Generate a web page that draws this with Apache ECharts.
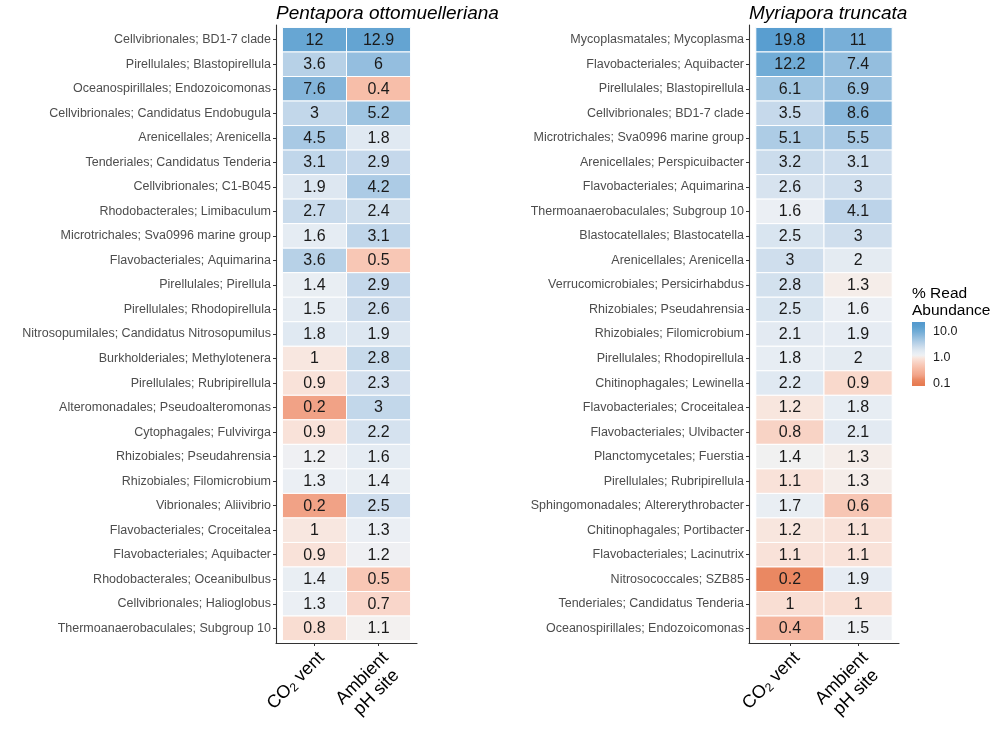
<!DOCTYPE html>
<html>
<head>
<meta charset="utf-8">
<script src="https://cdn.jsdelivr.net/npm/echarts@6/dist/echarts.min.js"></script>
<style>
html,body{margin:0;padding:0;background:#fff;}
#chart{width:1000px;height:740px;}
</style>
</head>
<body>
<div id="chart"></div>
<script>
// ---------- data ----------
const siteLabels = ['CO2 vent', 'Ambient pH site'];

const leftTitle = 'Pentapora ottomuelleriana';
const leftTaxa = [
  'Cellvibrionales; BD1-7 clade',
  'Pirellulales; Blastopirellula',
  'Oceanospirillales; Endozoicomonas',
  'Cellvibrionales; Candidatus Endobugula',
  'Arenicellales; Arenicella',
  'Tenderiales; Candidatus Tenderia',
  'Cellvibrionales; C1-B045',
  'Rhodobacterales; Limibaculum',
  'Microtrichales; Sva0996 marine group',
  'Flavobacteriales; Aquimarina',
  'Pirellulales; Pirellula',
  'Pirellulales; Rhodopirellula',
  'Nitrosopumilales; Candidatus Nitrosopumilus',
  'Burkholderiales; Methylotenera',
  'Pirellulales; Rubripirellula',
  'Alteromonadales; Pseudoalteromonas',
  'Cytophagales; Fulvivirga',
  'Rhizobiales; Pseudahrensia',
  'Rhizobiales; Filomicrobium',
  'Vibrionales; Aliivibrio',
  'Flavobacteriales; Croceitalea',
  'Flavobacteriales; Aquibacter',
  'Rhodobacterales; Oceanibulbus',
  'Cellvibrionales; Halioglobus',
  'Thermoanaerobaculales; Subgroup 10'
];
const leftCO2 = [12, 3.6, 7.6, 3, 4.5, 3.1, 1.9, 2.7, 1.6, 3.6, 1.4, 1.5, 1.8, 1, 0.9, 0.2, 0.9, 1.2, 1.3, 0.2, 1, 0.9, 1.4, 1.3, 0.8];
const leftAmbient = [12.9, 6, 0.4, 5.2, 1.8, 2.9, 4.2, 2.4, 3.1, 0.5, 2.9, 2.6, 1.9, 2.8, 2.3, 3, 2.2, 1.6, 1.4, 2.5, 1.3, 1.2, 0.5, 0.7, 1.1];

const rightTitle = 'Myriapora truncata';
const rightTaxa = [
  'Mycoplasmatales; Mycoplasma',
  'Flavobacteriales; Aquibacter',
  'Pirellulales; Blastopirellula',
  'Cellvibrionales; BD1-7 clade',
  'Microtrichales; Sva0996 marine group',
  'Arenicellales; Perspicuibacter',
  'Flavobacteriales; Aquimarina',
  'Thermoanaerobaculales; Subgroup 10',
  'Blastocatellales; Blastocatella',
  'Arenicellales; Arenicella',
  'Verrucomicrobiales; Persicirhabdus',
  'Rhizobiales; Pseudahrensia',
  'Rhizobiales; Filomicrobium',
  'Pirellulales; Rhodopirellula',
  'Chitinophagales; Lewinella',
  'Flavobacteriales; Croceitalea',
  'Flavobacteriales; Ulvibacter',
  'Planctomycetales; Fuerstia',
  'Pirellulales; Rubripirellula',
  'Sphingomonadales; Altererythrobacter',
  'Chitinophagales; Portibacter',
  'Flavobacteriales; Lacinutrix',
  'Nitrosococcales; SZB85',
  'Tenderiales; Candidatus Tenderia',
  'Oceanospirillales; Endozoicomonas'
];
const rightCO2 = [19.8, 12.2, 6.1, 3.5, 5.1, 3.2, 2.6, 1.6, 2.5, 3, 2.8, 2.5, 2.1, 1.8, 2.2, 1.2, 0.8, 1.4, 1.1, 1.7, 1.2, 1.1, 0.17, 1, 0.4];
const rightAmbient = [11, 7.4, 6.9, 8.6, 5.5, 3.1, 3, 4.1, 3, 2, 1.3, 1.6, 1.9, 2, 0.9, 1.8, 2.1, 1.3, 1.3, 0.6, 1.1, 1.1, 1.9, 1, 1.5];

const legendTitle = '% Read\nAbundance';
const legendTicks = [0.1, 1, 10];
const legendTickLabels = ['0.1', '1.0', '10.0'];

// ---------- colour scale (log10, diverging) ----------
const FONT = '"Liberation Sans", Arial, sans-serif';
const colorStops = [
  [-1.1, '#e67a50'], [-0.9, '#ea8862'], [-0.74, '#f1a286'], [-0.5, '#f6b8a1'],
  [-0.3, '#f8cbbb'], [-0.1, '#f9e1d7'], [-0.04, '#f8e7e0'], [0, '#f3f1f0'],
  [0.06, '#ecf0f4'], [0.2, '#e2eaf2'], [0.35, '#cfdeed'], [0.5, '#b9d2e8'],
  [0.65, '#a2c6e2'], [0.8, '#8ab8dc'], [0.95, '#72acd6'], [1.15, '#5a9fd0'], [1.3, '#5399cd']
];
function hex2rgb(h){return [parseInt(h.slice(1,3),16),parseInt(h.slice(3,5),16),parseInt(h.slice(5,7),16)];}
function colorFor(v, mid){
  const d = Math.log10(v) - Math.log10(mid);
  if (d <= colorStops[0][0]) return colorStops[0][1];
  const last = colorStops[colorStops.length-1];
  if (d >= last[0]) return last[1];
  for (let i=0;i<colorStops.length-1;i++){
    const a=colorStops[i], b=colorStops[i+1];
    if (d>=a[0] && d<=b[0]){
      const t=(d-a[0])/(b[0]-a[0]);
      const ca=hex2rgb(a[1]), cb=hex2rgb(b[1]);
      const c=ca.map((x,k)=>Math.round(x+(cb[k]-x)*t));
      return 'rgb('+c.join(',')+')';
    }
  }
  return last[1];
}
const leftMid = 1.1, rightMid = 1.35, legendMid = 1.15;

function fmt(v){ return String(Math.round(v*10)/10); }

function buildCells(co2, amb, mid){
  const out=[];
  for (let i=0;i<co2.length;i++){
    out.push([0, i, co2[i], mid]);
    out.push([1, i, amb[i], mid]);
  }
  return out;
}

function renderCell(params, api){
  const x=api.value(0), y=api.value(1), v=api.value(2), mid=api.value(3);
  const p1=api.coord([x-0.5, y-0.5]);
  const p2=api.coord([x+0.5, y+0.5]);
  const rx=Math.min(p1[0],p2[0]), ry=Math.min(p1[1],p2[1]);
  const w=Math.abs(p2[0]-p1[0]), h=Math.abs(p2[1]-p1[1]);
  return {
    type:'group',
    children:[
      {type:'rect', shape:{x:rx, y:ry, width:w, height:h},
       style:{fill:colorFor(v, mid), stroke:'#ffffff', lineWidth:1}},
      {type:'text', style:{text:fmt(v), x:rx+w/2, y:ry+h/2+0.5, align:'center', verticalAlign:'middle',
        fontSize:16, fontFamily:FONT, fill:'#1a1a1a'}}
    ]
  };
}

const rowIdx = leftTaxa.map((_,i)=>i);
const colIdx = [0,1];

function yAxisFor(grid, taxa){
  return {
    type:'value', gridIndex:grid, min:-0.6, max:24.6, inverse:true,
    splitLine:{show:false},
    axisLine:{show:true, onZero:false, lineStyle:{color:'#333333', width:1.1}},
    axisTick:{show:true, length:3, customValues:rowIdx, lineStyle:{color:'#333333', width:1}},
    axisLabel:{customValues:rowIdx, formatter:(v)=>taxa[Math.round(v)], color:'#4d4d4d',
      fontSize:12.5, fontFamily:FONT, margin:5}
  };
}
const xRich = {
  n:{fontSize:18, fontFamily:FONT, color:'#000', lineHeight:20, align:'center'},
  s:{fontSize:12, fontFamily:FONT, color:'#000', lineHeight:10, verticalAlign:'bottom'}
};
function xAxisFor(grid){
  return {
    type:'value', gridIndex:grid, min:-0.6, max:1.6,
    splitLine:{show:false},
    axisLine:{show:true, onZero:false, lineStyle:{color:'#333333', width:1.1}},
    axisTick:{show:true, length:3, customValues:colIdx, lineStyle:{color:'#333333', width:1}},
    axisLabel:{customValues:colIdx, rotate:45, margin:5, align:'right', verticalAlign:'top',
      formatter:(v)=> Math.round(v)===0 ? '{n|CO}{s|2}{n| vent}' : '{n|Ambient}\n{n|pH site}',
      rich:xRich}
  };
}

const legMin=-1.077, legMax=1.385;

const chart = echarts.init(document.getElementById('chart'), null, {renderer:'canvas'});
chart.setOption({
  backgroundColor:'#ffffff',
  animation:false,
  title:[
    {text:leftTitle, left:276, top:4, padding:0,
     textStyle:{fontStyle:'italic', fontWeight:'normal', fontSize:19, color:'#000', fontFamily:FONT}},
    {text:rightTitle, left:749, top:4, padding:0,
     textStyle:{fontStyle:'italic', fontWeight:'normal', fontSize:19, color:'#000', fontFamily:FONT}},
    {text:legendTitle, left:912, top:285, padding:0,
     textStyle:{fontWeight:'normal', fontSize:15.5, lineHeight:17, color:'#000', fontFamily:FONT}}
  ],
  grid:[
    {left:276, top:25, width:141, height:618},
    {left:749, top:25, width:150, height:618},
    {left:912, top:322, width:13, height:64}
  ],
  xAxis:[
    xAxisFor(0), xAxisFor(1),
    {type:'value', gridIndex:2, min:0, max:1, show:false}
  ],
  yAxis:[
    yAxisFor(0, leftTaxa), yAxisFor(1, rightTaxa),
    {type:'value', gridIndex:2, min:legMin, max:legMax, position:'right',
     splitLine:{show:false}, axisLine:{show:false}, axisTick:{show:false},
     axisLabel:{customValues:legendTicks.map(t=>Math.log10(t)),
       formatter:(v)=>legendTickLabels[legendTicks.findIndex(t=>Math.abs(Math.log10(t)-v)<1e-6)],
       color:'#1a1a1a', fontSize:12.5, fontFamily:FONT, margin:8}}
  ],
  series:[
    {type:'custom', xAxisIndex:0, yAxisIndex:0, renderItem:renderCell,
     data:buildCells(leftCO2, leftAmbient, leftMid), clip:false},
    {type:'custom', xAxisIndex:1, yAxisIndex:1, renderItem:renderCell,
     data:buildCells(rightCO2, rightAmbient, rightMid), clip:false},
    {type:'custom', xAxisIndex:2, yAxisIndex:2, data:[[0]],
     renderItem:function(params, api){
       const p1=api.coord([0, legMax]), p2=api.coord([1, legMin]);
       const stops=[];
       const N=40;
       for(let i=0;i<=N;i++){
         const L=legMin+(legMax-legMin)*i/N;
         stops.push({offset:i/N, color:colorFor(Math.pow(10,L), legendMid)});
       }
       return {type:'rect', shape:{x:p1[0], y:p1[1], width:p2[0]-p1[0], height:p2[1]-p1[1]},
         style:{fill:{type:'linear', x:0, y:1, x2:0, y2:0, colorStops:stops}}};
     }}
  ]
});
</script>
</body>
</html>
